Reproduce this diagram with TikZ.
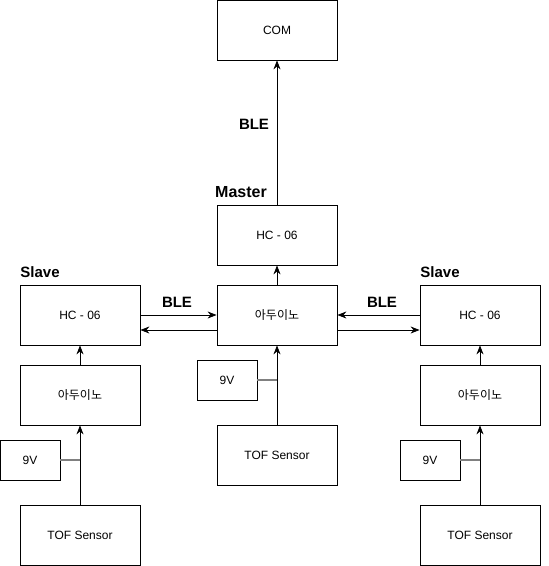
\documentclass[tikz,border=0pt]{standalone}
\usepackage{fontspec}
\setmainfont{Liberation Sans}
\newfontfamily\kr{Noto Sans CJK KR}
\usetikzlibrary{arrows.meta}
\begin{document}
\begin{tikzpicture}[x=1pt, y=-1pt,
        box/.style={draw, line width=0.8pt, minimum width=120pt, minimum height=60pt, font=\fontsize{12}{14}\selectfont},
        small/.style={box, minimum width=60pt, minimum height=40pt},
        arr/.style={-{Stealth[length=9pt, width=7pt]}, line width=0.8pt},
        wire/.style={draw=gray, line width=1.5pt},
        lbl/.style={font=\bfseries\fontsize{15}{17}\selectfont}]
        \useasboundingbox (0,0) rectangle (549,566);
        % Master side
        \node[box] (com) at (277,30) {COM};
        \node[box] (mhc) at (277,235) {HC - 06};
        \node[box] (mard) at (277,315) {\kr 아두이노};
        \node[small] (mbat) at (227,380) {9V};
        \node[box] (mtof) at (277,455) {TOF Sensor};
        \node[lbl, font=\bfseries\fontsize{16}{18}\selectfont] (master) at (241,192) {Master};
        \node[lbl] (bletop) at (254,124) {BLE};
        \draw[arr] (mtof) -- (mard);
        \draw[wire] (mbat) -- (mbat -| mtof);
        \draw[arr] (mard) -- (mhc);
        \draw[arr] (mhc) -- (com);
        % Slave sides
        \foreach \s/\x in {l/80, r/480} {
            \node[box] (hc\s) at (\x,315) {HC - 06};
            \node[box] (ard\s) at (\x,395) {\kr 아두이노};
            \node[small] (bat\s) at (\x-50,460) {9V};
            \node[box] (tof\s) at (\x,535) {TOF Sensor};
            \node[lbl] (slave\s) at (\x-40,272) {Slave};
            \draw[arr] (tof\s) -- (ard\s);
            \draw[wire] (bat\s) -- (bat\s -| tof\s);
            \draw[arr] (ard\s) -- (hc\s);
        }
        % BLE links
        \node[lbl] (blel) at (177,302) {BLE};
        \node[lbl] (bler) at (382,302) {BLE};
        \draw[arr] (hcl.east) -- (mard.west);
        \draw[arr] ([yshift=-15pt]mard.west) -- ([yshift=-15pt]hcl.east);
        \draw[arr] (hcr.west) -- (mard.east);
        \draw[arr] ([yshift=-15pt]mard.east) -- ([yshift=-15pt]hcr.west);
    \end{tikzpicture}
\end{document}
